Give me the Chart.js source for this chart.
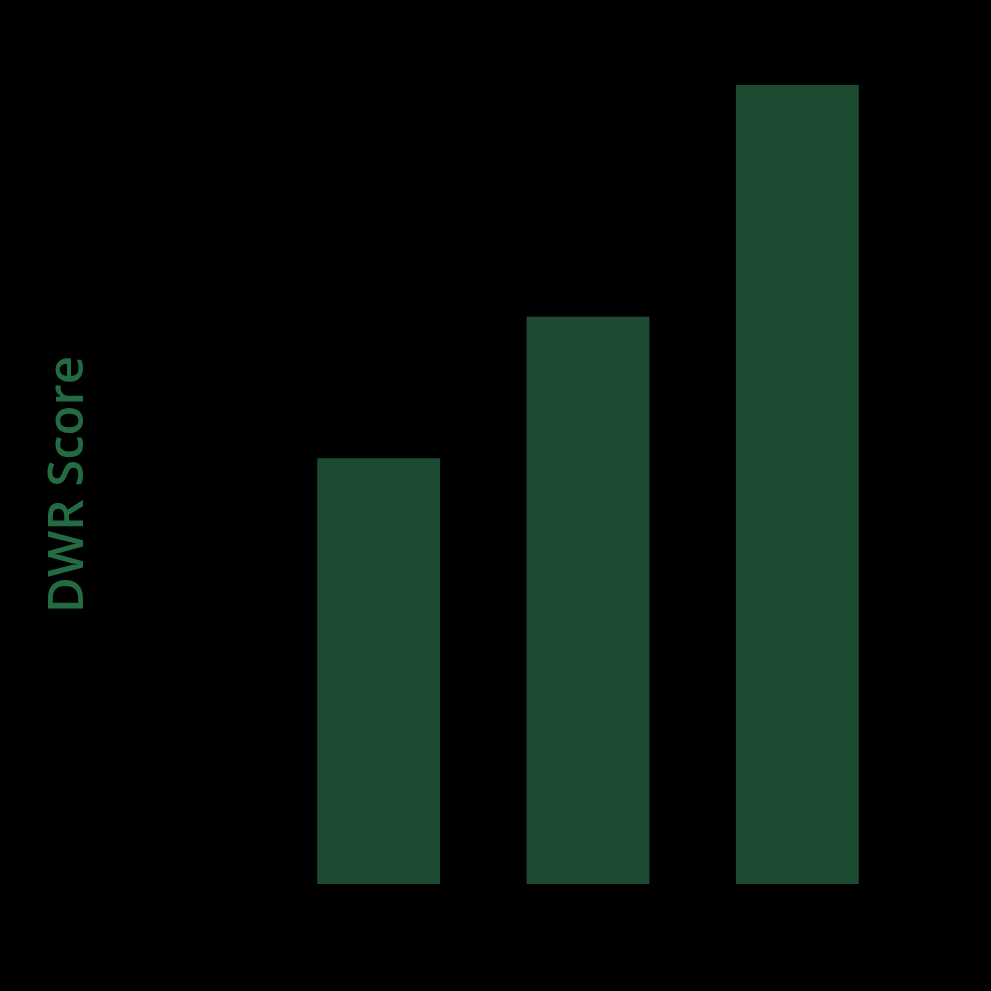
<!DOCTYPE html>
<html>
<head>
<meta charset="utf-8">
<script src="https://cdn.jsdelivr.net/npm/chart.js@4/dist/chart.umd.min.js"></script>
<style>
  html, body { margin: 0; padding: 0; background: #000; }
  #wrap { width: 991px; height: 991px; }
</style>
</head>
<body>
<div id="wrap"><canvas id="barChart"></canvas></div>
<script>
  // data
  var categories = ["Baseline", "Moderate", "High"];
  var dwrScores = [5.33, 7.1, 10];
  var yTicks = [0, 2, 4, 6, 8, 10];

  var bgPlugin = {
    id: 'bg',
    beforeDraw: function(chart){
      var c = chart.ctx;
      c.save();
      c.fillStyle = '#000000';
      c.fillRect(0, 0, chart.width, chart.height);
      c.restore();
    }
  };

  var ctx = document.getElementById("barChart").getContext('2d');
  var myBarChart = new Chart(ctx, {
    type: 'bar',
    data: {
      labels: categories,
      datasets: [{
        label: "DWR Score",
        data: dwrScores,
        backgroundColor: '#1c4b32',
        borderWidth: 0,
        barPercentage: 0.587,
        categoryPercentage: 1.0
      }]
    },
    options: {
      responsive: true,
      maintainAspectRatio: false,
      animation: false,
      layout: { padding: { top: 85, right: 89, left: 0, bottom: 0 } },
      plugins: {
        legend: { display: false },
        tooltip: { enabled: false }
      },
      scales: {
        x: {
          grid: { display: false, drawTicks: false },
          border: { display: false },
          ticks: { color: '#000000', font: { family: 'Open Sans', size: 18 } },
          afterFit: function(scale){ scale.height = 107; }
        },
        y: {
          min: 0,
          max: 10,
          afterBuildTicks: function(scale){
            scale.ticks = yTicks.map(function(v){ return { value: v }; });
          },
          grid: { display: false, drawTicks: false },
          border: { display: false },
          ticks: { color: '#000000', font: { family: 'Open Sans', size: 18 } },
          title: {
            display: true,
            text: 'DWR Score',
            color: '#236b42',
            padding: { top: 40, bottom: 4 },
            font: { family: 'Open Sans', size: 49, weight: '600' }
          },
          afterFit: function(scale){ scale.width = 274; }
        }
      }
    },
    plugins: [bgPlugin]
  });
</script>
</body>
</html>
